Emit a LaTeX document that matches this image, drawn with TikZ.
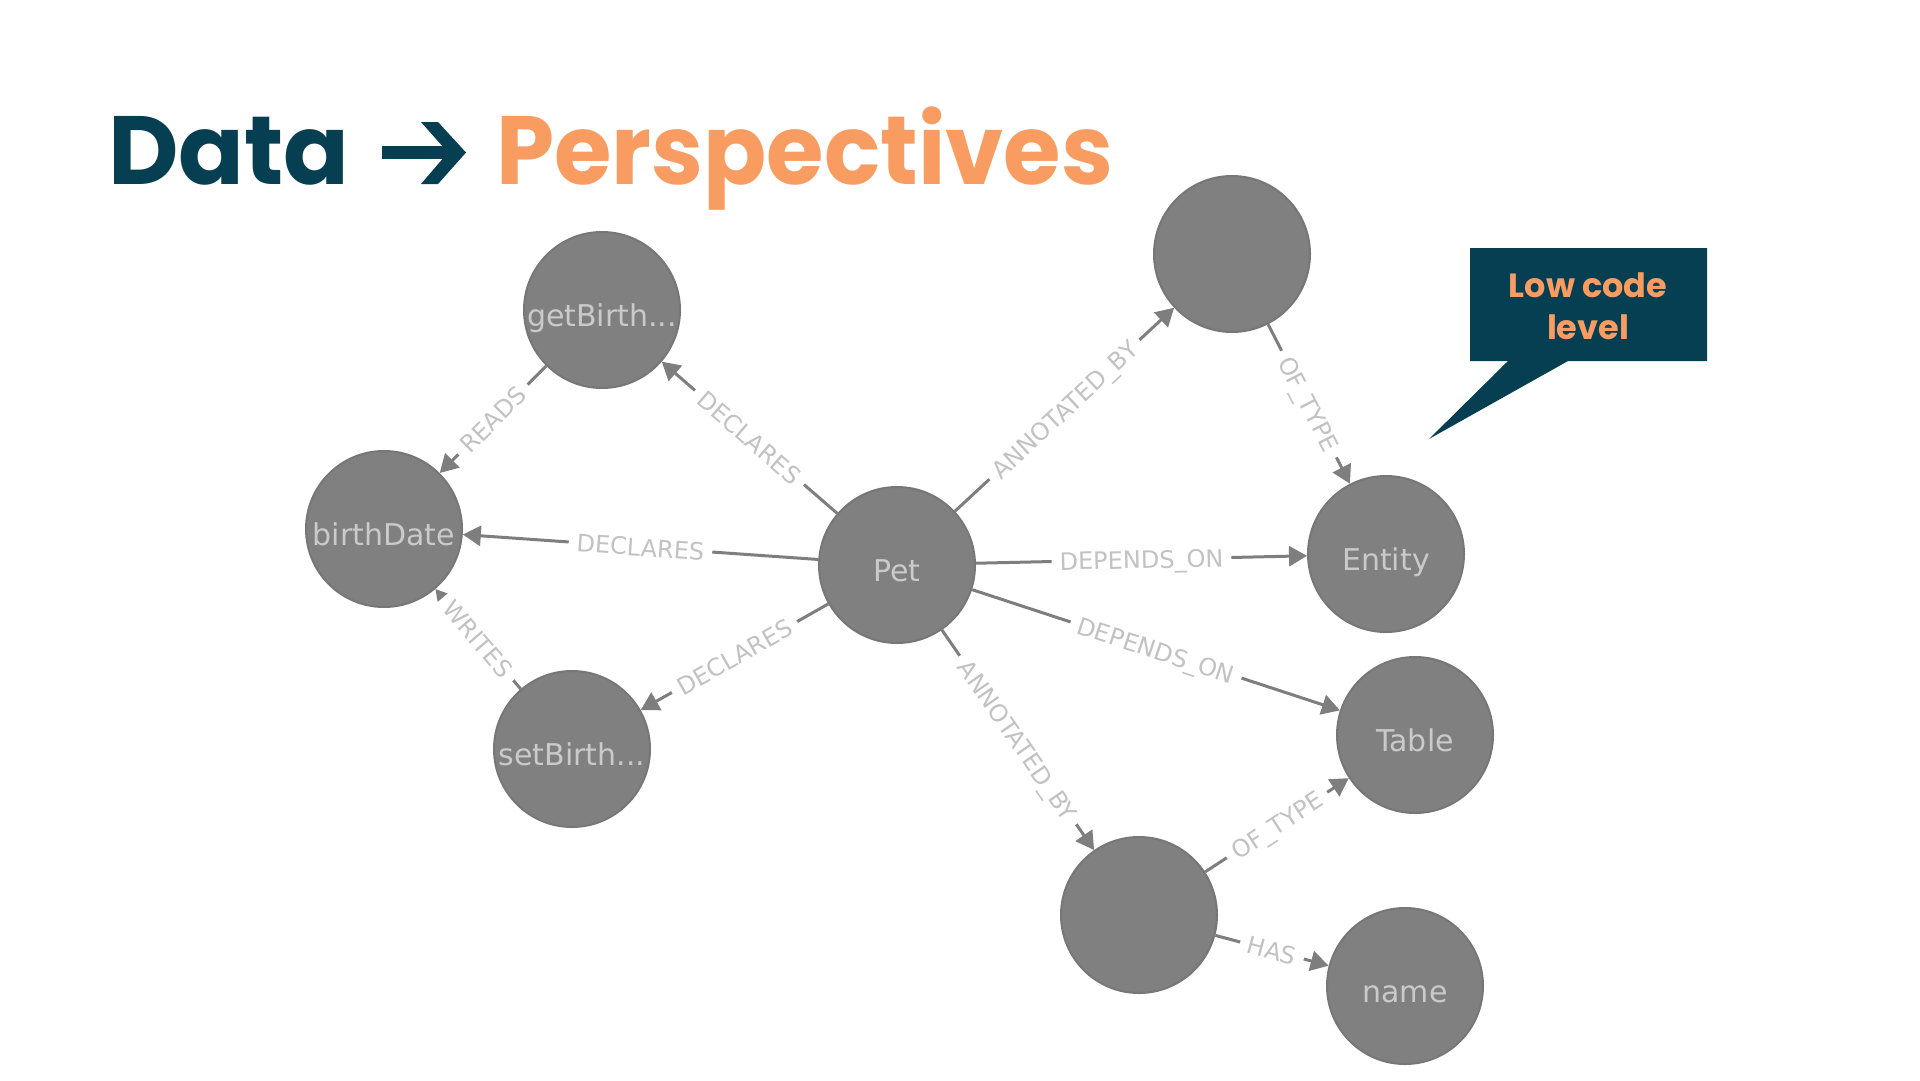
\documentclass[tikz,border=0pt]{standalone}
\usepackage{fontspec}
\usetikzlibrary{arrows.meta}
\newfontfamily\djv{DejaVu Sans}
\newfontfamily\pop{Poppins}
\definecolor{teal}{HTML}{053F51}
\definecolor{orng}{HTML}{F89C62}
\definecolor{nodefill}{HTML}{808080}
\definecolor{nodeedge}{HTML}{777777}
\definecolor{nodetext}{HTML}{CACACA}
\definecolor{labtext}{HTML}{C2C2C2}
\definecolor{edgecol}{HTML}{7E7E7E}
\tikzset{
  gnode/.style={circle, minimum size=156pt, inner sep=0pt, fill=nodefill, draw=nodeedge, line width=2pt,
    text=nodetext, font=\djv\fontsize{30}{34}\selectfont, text height=32pt, text depth=0pt},
  rel/.style={draw=edgecol, line width=3pt, -{Triangle[length=18pt,width=20pt]}},
  rlab/.style={midway, sloped, fill=white, inner xsep=8pt, inner ysep=2pt, text=labtext,
    font=\djv\fontsize{24}{28}\selectfont, text height=18pt, text depth=0pt},
  ttl/.style={anchor=base west, inner sep=0pt, font=\pop\bfseries\fontsize{97}{110}\selectfont},
}
\begin{document}
\begin{tikzpicture}[x=1pt,y=-1pt]
\useasboundingbox[fill=white] (0,0) rectangle (1920,1080);
% title
\node[ttl, text=teal] (tdata) at (108,184) {Data};
\node[ttl, text=orng, xscale=0.96] (tpersp) at (496,184) {Perspectives};
\fill[teal] (382,146) rectangle (452,159);
\fill[teal] (421,122) -- (438,122) -- (466,152.5) -- (438,184) -- (421,184) -- (448,152.5) -- cycle;
% callout
\fill[teal] (1470,248) -- (1707,248) -- (1707,361) -- (1568,361) -- (1429,439) -- (1508,361) -- (1470,361) -- cycle;
\node[align=center, text=orng, font=\pop\bfseries\fontsize{33.5}{42}\selectfont] (call) at (1588,306) {Low code\\level};
% nodes
\node[gnode] (getb) at (602,310) {getBirth...};
\node[gnode] (bd) at (384,529) {birthDate};
\node[gnode] (setb) at (572,749) {setBirth...};
\node[gnode] (pet) at (897,565) {Pet};
\node[gnode] (top) at (1232,254) {};
\node[gnode] (ent) at (1386,554) {Entity};
\node[gnode] (tab) at (1415,735) {Table};
\node[gnode] (bot) at (1139,915) {};
\node[gnode] (nm) at (1405,986) {name};
% relations
\draw[rel] (pet) -- (getb) node[rlab] {DECLARES};
\draw[rel] (pet) -- (bd) node[rlab] {DECLARES};
\draw[rel] (pet) -- (setb) node[rlab] {DECLARES};
\draw[rel] (getb) -- (bd) node[rlab] {READS};
\draw[rel] (setb) -- (bd) node[rlab] {WRITES};
\draw[rel] (pet) -- (top) node[rlab] {ANNOTATED\_BY};
\draw[rel] (top) -- (ent) node[rlab] {OF\_TYPE};
\draw[rel] (pet) -- (ent) node[rlab] {DEPENDS\_ON};
\draw[rel] (pet) -- (tab) node[rlab] {DEPENDS\_ON};
\draw[rel] (pet) -- (bot) node[rlab] {ANNOTATED\_BY};
\draw[rel] (bot) -- (tab) node[rlab] {OF\_TYPE};
\draw[rel] (bot) -- (nm) node[rlab] {HAS};
\end{tikzpicture}
\end{document}
